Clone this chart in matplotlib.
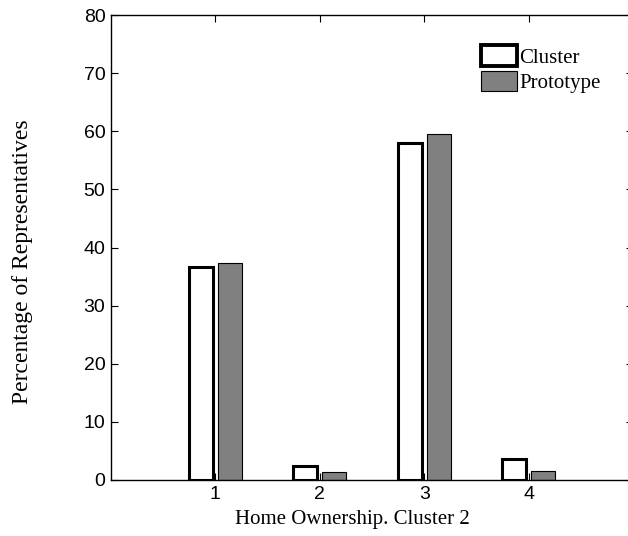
import numpy as np
import matplotlib
matplotlib.use("Agg")
from matplotlib import pyplot as plt
from matplotlib.patches import Patch

categories = [1, 2, 3, 4]
cluster = [36.6, 2.4, 58.0, 3.6]
prototype = [37.3, 1.3, 59.6, 1.6]
yticks = [0, 10, 20, 30, 40, 50, 60, 70, 80]

fig = plt.figure(figsize=(6.28, 5.36), dpi=100)
ax = fig.add_axes([111/628, 1 - 480/536, 522/628, 465/536])

x = np.array(categories)
w = 0.23
ax.bar(x - 0.14, cluster, w, facecolor='white', edgecolor='black', linewidth=2.2)
ax.bar(x + 0.14, prototype, w, facecolor='#808080', edgecolor='black', linewidth=0.8)

ax.set_xlim(0, 5)
ax.set_ylim(0, 80)
ax.set_xticks(categories)
ax.set_yticks(yticks)
ax.tick_params(direction='in', length=5, labelsize=14, right=True, top=True,
               width=0.8, pad=4)
for lab in ax.get_xticklabels() + ax.get_yticklabels():
    lab.set_family(['Liberation Sans'])
for s in ax.spines.values():
    s.set_linewidth(1.0)

ax.set_xlabel('Home Ownership. Cluster 2', family='Liberation Serif', fontsize=15,
              va='center')
ax.xaxis.set_label_coords(0.462, -0.086)
ax.set_ylabel('Percentage of Representatives', family='Liberation Serif', fontsize=17,
              va='center')
ax.yaxis.set_label_coords(-0.170, 0.469)

handles = [Patch(facecolor='white', edgecolor='black', linewidth=2.8),
           Patch(facecolor='#808080', edgecolor='black', linewidth=0.8)]
leg = ax.legend(handles, ['Cluster', 'Prototype'], loc='upper left',
                bbox_to_anchor=(0.708, 0.935), frameon=False,
                prop={'family': 'Liberation Serif', 'size': 15},
                handlelength=1.75, handleheight=1.15, handletextpad=0.1,
                labelspacing=0.15, borderaxespad=0, borderpad=0)

fig.savefig('out.png', dpi=100)
